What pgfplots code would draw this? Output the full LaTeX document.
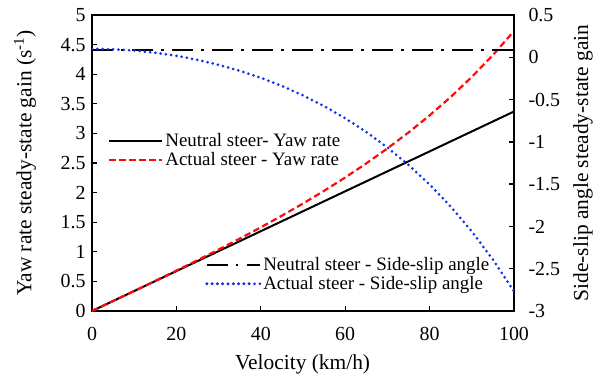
\documentclass[border=0pt]{standalone}
\usepackage{fontspec}
\setmainfont{Liberation Serif}
\usepackage{pgfplots}
\pgfplotsset{compat=1.18}
\definecolor{dotblue}{RGB}{15,50,235}
\definecolor{dashred}{RGB}{255,10,10}
\pgfplotstableread{
v neutral actual
0 0 0
5 0.1685 0.1686
10 0.337 0.3380
15 0.5055 0.5088
20 0.674 0.6818
25 0.8425 0.8579
30 1.011 1.0378
35 1.1795 1.2226
40 1.348 1.4130
45 1.5165 1.6102
50 1.685 1.8155
55 1.8535 2.0301
60 2.022 2.2554
65 2.1905 2.4934
70 2.359 2.7458
75 2.5275 3.0151
80 2.696 3.3039
85 2.8645 3.6155
90 3.033 3.9537
95 3.2015 4.3233
100 3.37 4.7298
}\yawtable
\pgfplotstableread{
v neutral actual
0 0.09 0.100
5 0.09 0.0949
10 0.09 0.0795
15 0.09 0.0537
20 0.09 0.0172
25 0.09 -0.0302
30 0.09 -0.0890
35 0.09 -0.1597
40 0.09 -0.2430
45 0.09 -0.3398
50 0.09 -0.4509
55 0.09 -0.5776
60 0.09 -0.7213
65 0.09 -0.8836
70 0.09 -1.0665
75 0.09 -1.2724
80 0.09 -1.5041
85 0.09 -1.7651
90 0.09 -2.0595
95 0.09 -2.3926
100 0.09 -2.7705
}\sliptable
\pgfplotsset{
  common/.style={
    scale only axis, width=422bp, height=296bp,
    at={(0,0)}, anchor=south west,
    xmin=0, xmax=100,
    tick align=inside, major tick length=5.5bp,
    axis line style={line width=1.8bp, black},
    every tick/.style={line width=1.3bp, black},
    ticklabel style={font=\fontsize{20}{24}\selectfont},
    label style={font=\fontsize{21.5}{25}\selectfont},
    legend style={draw=none, fill=none, inner sep=0pt, font=\fontsize{19}{22}\selectfont,
      cells={anchor=west}},
    legend image code/.code={\draw[##1] (0bp,0bp) -- (43bp,0bp); \path (0bp,0bp) -- (53bp,0bp);},
  }
}
\begin{document}
\begin{tikzpicture}
\begin{axis}[common,
  ymin=0, ymax=5,
  xtick={0,20,40,60,80,100}, xticklabels={0,20,40,60,80,100},
  ytick={0,0.5,1,1.5,2,2.5,3,3.5,4,4.5,5},
  yticklabels={0,0.5,1,1.5,2,2.5,3,3.5,4,4.5,5},
  xtick pos=lower, ytick pos=left,
  xticklabel style={yshift=-13bp},
  yticklabel style={xshift=-3bp},
  xlabel={Velocity (km/h)},
  ylabel={Yaw rate steady-state gain (s\textsuperscript{-1})},
  xlabel style={at={(axis description cs:0.499,-0.182)}, anchor=center},
  ylabel style={at={(axis description cs:-0.1588,0.5)}, anchor=center},
  legend style={at={(axis description cs:0.038,0.606)}, anchor=north west,
    /tikz/every row/.append style={row sep=1bp}},
]
\addplot[black, line width=2bp] table[x=v, y=neutral] {\yawtable};
\addlegendentry{Neutral steer- Yaw rate}
\addplot[dashred, line width=2.2bp, dash pattern=on 6.5bp off 3.5bp] table[x=v, y=actual] {\yawtable};
\addlegendentry{Actual steer - Yaw rate}
\end{axis}
\begin{axis}[common,
  ymin=-3, ymax=0.5,
  axis y line*=right, axis x line=none,
  ytick={-3,-2.5,-2,-1.5,-1,-0.5,0,0.5},
  yticklabels={-3,-2.5,-2,-1.5,-1,-0.5,0,0.5},
  yticklabel style={xshift=11bp},
  ylabel={Side-slip angle steady-state gain},
  ylabel style={at={(axis description cs:1.1635,0.5)}, anchor=center},
  legend style={at={(axis description cs:0.268,0.187)}, anchor=north west},
]
\addplot[black, line width=2bp, dash pattern=on 21bp off 8bp on 2.5bp off 8.5bp] table[x=v, y=neutral] {\sliptable};
\addlegendentry{Neutral steer - Side-slip angle}
\addplot[dotblue, line width=3bp, line cap=round, dash pattern=on 0bp off 5.3bp] table[x=v, y=actual] {\sliptable};
\addlegendentry{Actual steer - Side-slip angle}
\end{axis}
\pgfresetboundingbox
\path (-92bp,-65bp) rectangle (507bp,311bp);
\end{tikzpicture}
\end{document}
